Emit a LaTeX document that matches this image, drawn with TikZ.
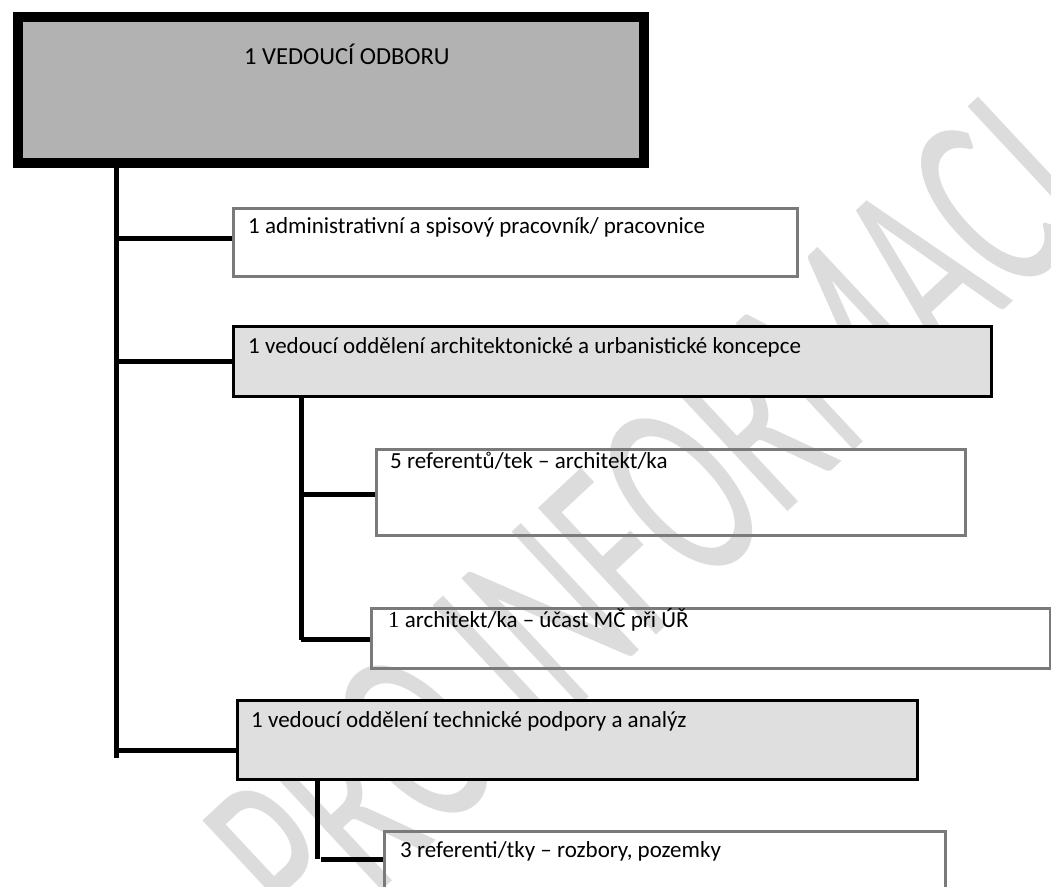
\documentclass[tikz,border=0pt]{standalone}
\usepackage{fontspec}
\setmainfont{Carlito}
\newfontfamily\serifone{Liberation Serif}
\definecolor{topfill}{HTML}{B2B2B2}
\definecolor{subfill}{HTML}{DFDFDF}
\definecolor{boxline}{HTML}{7A7A7A}
\definecolor{wmark}{HTML}{DCDCDC}
\begin{document}
\begin{tikzpicture}[x=1pt,y=-1pt,
  topbox/.style={draw=black,line width=10pt,fill=topfill,rectangle,anchor=north west,inner sep=0pt},
  leadbox/.style={draw=black,line width=2.5pt,fill=subfill,rectangle,anchor=north west,inner sep=0pt},
  plainbox/.style={draw=boxline,line width=2.5pt,rectangle,anchor=north west,inner sep=0pt},
  txt/.style={anchor=base west,inner sep=0pt,font=\fontsize{23}{26}\selectfont},
  conn/.style={line width=5pt,draw=black}]
\useasboundingbox (0,0) rectangle (1051,886);
\clip (0,0) rectangle (1051,886);
% watermark
\node[text=wmark,font=\fontsize{270}{270}\selectfont,inner sep=0pt,transform shape,rotate=43,xscale=0.6] (wm) at (650,522) {PRO INFORMACI};
% boxes
\node[topbox,minimum width=626pt,minimum height=146pt] (top) at (13,11.5) {};
\node[txt,font=\fontsize{24.5}{28}\selectfont] (ttop) at (244,64) {1 VEDOUCÍ ODBORU};
\node[plainbox,minimum width=564pt,minimum height=68pt] (adm) at (232,207) {};
\node[txt] (tadm) at (248,233) {1 administrativní a spisový pracovník/ pracovnice};
\node[leadbox,minimum width=758pt,minimum height=70pt] (arch) at (232,325) {};
\node[txt] (tarch) at (248,353) {1 vedoucí oddělení architektonické a urbanistické koncepce};
\node[plainbox,minimum width=589pt,minimum height=86pt] (ref5) at (375,448) {};
\node[txt] (tref5) at (390,468) {5 referentů/tek – architekt/ka};
\node[plainbox,minimum width=679pt,minimum height=60pt] (arch1) at (370,607) {};
\node[txt] (tarch1) at (388,627) {{\serifone 1} architekt/ka – účast MČ při ÚŘ};
\node[leadbox,minimum width=680pt,minimum height=79pt] (tech) at (236,699) {};
\node[txt] (ttech) at (251,727) {1 vedoucí oddělení technické podpory a analýz};
\node[plainbox,minimum width=561pt,minimum height=90pt] (ref3) at (383,830) {};
\node[txt] (tref3) at (400,857) {3 referenti/tky – rozbory, pozemky};
% connectors
\coordinate (trunkend) at (116,758);
\coordinate (sub1end) at (301,640);
\coordinate (sub2end) at (317,859);
\draw[conn] (top.south -| trunkend) -- (trunkend);
\draw[conn] ([yshift=4pt]adm.west -| trunkend) -- ([yshift=4pt]adm.west);
\draw[conn] (arch.west -| trunkend) -- (arch.west);
\draw[conn] ([yshift=-10.5pt]tech.west -| trunkend) -- ([yshift=-10.5pt]tech.west);
\draw[conn] (arch.south -| sub1end) -- (sub1end);
\draw[conn] ([yshift=-2pt]ref5.west -| sub1end) -- ([yshift=-2pt]ref5.west);
\draw[conn] ([yshift=-1pt]arch1.west -| sub1end) -- ([yshift=-1pt]arch1.west);
\draw[conn] (tech.south -| sub2end) -- (sub2end);
\draw[conn] ([xshift=4pt]sub2end) -- (sub2end -| ref3.west);
\end{tikzpicture}
\end{document}
